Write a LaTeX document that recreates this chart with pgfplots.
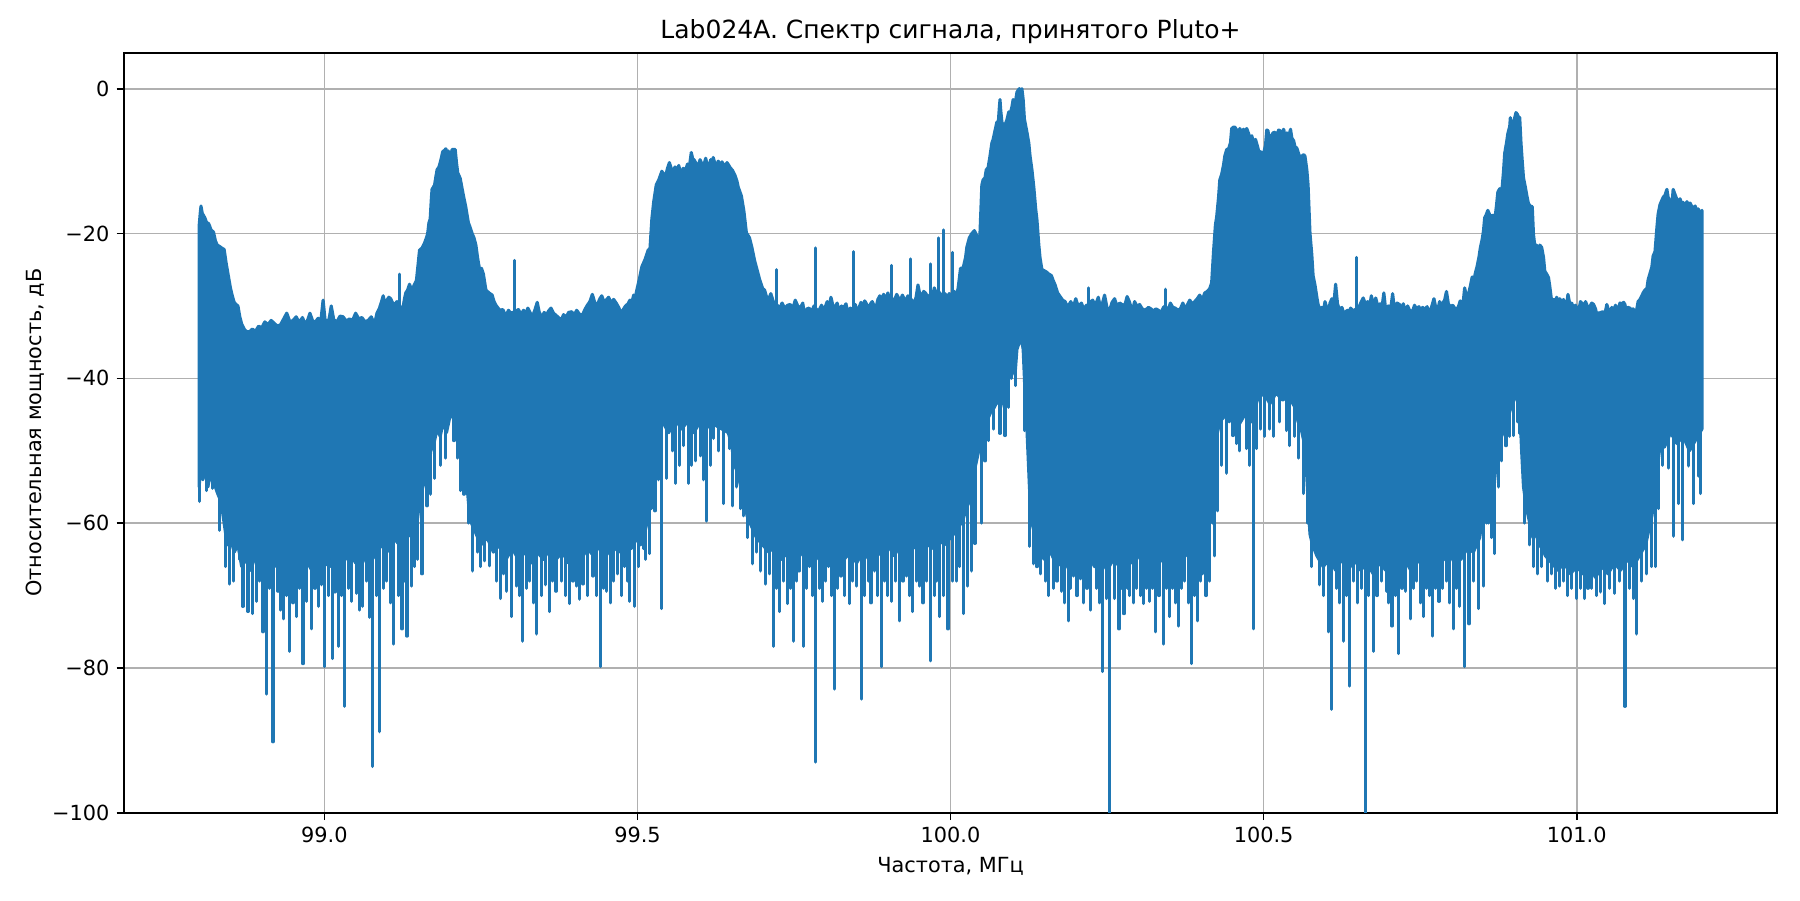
\documentclass[border=0pt]{standalone}
\usepackage{fontspec}
\setmainfont{DejaVu Sans}
\usepackage{pgfplots}
\pgfplotsset{compat=1.18}
\usepackage{pgfplotstable}
\definecolor{mplblue}{HTML}{1F77B4}
\definecolor{mplgrid}{HTML}{B0B0B0}

% upper envelope of the spectrum
\pgfplotstableread[row sep=\\]{
f y\\
98.800 -19.0\\ 98.802 -17.0\\ 98.803 -16.2\\ 98.805 -17.2\\ 98.807 -17.5\\ 98.809 -17.8\\ 98.812 -18.5\\ 98.815 -18.6\\
98.817 -19.0\\ 98.819 -19.5\\ 98.823 -19.8\\ 98.826 -21.0\\ 98.829 -21.6\\ 98.833 -21.8\\ 98.836 -22.0\\ 98.840 -22.2\\
98.843 -24.0\\ 98.845 -25.0\\ 98.848 -26.5\\ 98.850 -27.5\\ 98.853 -28.6\\ 98.856 -29.5\\ 98.859 -29.8\\ 98.862 -30.0\\
98.865 -31.5\\ 98.868 -32.5\\ 98.872 -33.2\\ 98.875 -33.5\\ 98.880 -33.6\\ 98.885 -33.2\\ 98.890 -33.5\\ 98.895 -32.8\\
98.900 -33.0\\ 98.905 -32.2\\ 98.910 -32.6\\ 98.915 -32.0\\ 98.920 -32.4\\ 98.925 -32.8\\ 98.930 -32.6\\ 98.935 -31.8\\
98.940 -31.0\\ 98.945 -32.2\\ 98.950 -32.0\\ 98.955 -31.5\\ 98.960 -32.3\\ 98.965 -31.6\\ 98.970 -32.6\\ 98.974 -31.8\\
98.977 -31.0\\ 98.981 -32.0\\ 98.985 -32.3\\ 98.990 -31.7\\ 98.994 -32.4\\ 98.998 -29.2\\ 99.001 -31.8\\ 99.005 -32.5\\
99.008 -31.6\\ 99.011 -30.0\\ 99.015 -31.9\\ 99.020 -32.2\\ 99.025 -31.4\\ 99.030 -31.5\\ 99.035 -32.1\\ 99.040 -31.8\\
99.045 -32.0\\ 99.050 -31.0\\ 99.055 -31.8\\ 99.060 -31.6\\ 99.065 -32.2\\ 99.070 -32.0\\ 99.075 -31.5\\ 99.080 -32.6\\
99.084 -31.0\\ 99.088 -30.3\\ 99.091 -29.5\\ 99.094 -28.6\\ 99.097 -29.8\\ 99.100 -29.2\\ 99.103 -28.8\\ 99.106 -29.0\\
99.109 -29.6\\ 99.112 -29.8\\ 99.116 -29.4\\ 99.120 -30.0\\ 99.125 -30.5\\ 99.128 -29.0\\ 99.130 -28.2\\ 99.133 -27.8\\
99.136 -27.0\\ 99.140 -28.0\\ 99.143 -27.2\\ 99.147 -26.5\\ 99.150 -24.0\\ 99.152 -22.3\\ 99.156 -22.0\\ 99.160 -21.3\\
99.163 -20.6\\ 99.165 -20.0\\ 99.167 -18.5\\ 99.169 -18.0\\ 99.171 -15.0\\ 99.172 -13.9\\ 99.176 -13.3\\ 99.178 -12.2\\
99.180 -11.2\\ 99.183 -10.8\\ 99.185 -10.2\\ 99.187 -9.5\\ 99.189 -8.7\\ 99.192 -8.5\\ 99.194 -8.3\\ 99.196 -8.8\\
99.198 -8.6\\ 99.200 -10.0\\ 99.202 -9.2\\ 99.204 -8.4\\ 99.206 -8.4\\ 99.209 -8.4\\ 99.211 -10.2\\ 99.213 -11.6\\
99.217 -12.4\\ 99.220 -13.8\\ 99.222 -14.7\\ 99.226 -16.4\\ 99.230 -18.5\\ 99.233 -19.2\\ 99.236 -20.0\\ 99.239 -20.6\\
99.242 -21.6\\ 99.245 -23.5\\ 99.248 -25.0\\ 99.251 -24.8\\ 99.254 -25.6\\ 99.258 -27.8\\ 99.263 -28.2\\ 99.268 -28.5\\
99.271 -29.4\\ 99.274 -29.9\\ 99.280 -30.6\\ 99.285 -30.5\\ 99.290 -31.4\\ 99.294 -30.6\\ 99.298 -31.0\\ 99.304 -30.8\\
99.310 -30.5\\ 99.314 -31.2\\ 99.318 -30.6\\ 99.322 -31.0\\ 99.325 -30.3\\ 99.329 -31.0\\ 99.333 -31.3\\ 99.336 -30.6\\
99.340 -29.5\\ 99.343 -30.8\\ 99.347 -31.6\\ 99.351 -30.9\\ 99.355 -31.2\\ 99.358 -30.7\\ 99.362 -30.3\\ 99.366 -31.0\\
99.370 -31.3\\ 99.374 -31.6\\ 99.378 -32.0\\ 99.382 -31.2\\ 99.386 -31.6\\ 99.390 -30.9\\ 99.395 -30.8\\ 99.399 -31.3\\
99.403 -30.6\\ 99.407 -31.1\\ 99.412 -31.3\\ 99.416 -30.5\\ 99.420 -29.9\\ 99.424 -29.4\\ 99.428 -28.4\\ 99.432 -29.6\\
99.436 -29.8\\ 99.440 -29.0\\ 99.443 -28.6\\ 99.447 -29.5\\ 99.450 -29.2\\ 99.454 -28.8\\ 99.458 -29.6\\ 99.462 -29.1\\
99.466 -29.6\\ 99.470 -30.2\\ 99.474 -31.0\\ 99.478 -30.4\\ 99.481 -30.0\\ 99.485 -29.7\\ 99.488 -29.2\\ 99.491 -29.5\\
99.494 -28.5\\ 99.497 -28.7\\ 99.499 -27.8\\ 99.503 -26.3\\ 99.507 -24.6\\ 99.512 -23.6\\ 99.517 -22.3\\ 99.520 -22.1\\
99.523 -18.0\\ 99.526 -15.6\\ 99.530 -13.3\\ 99.534 -12.6\\ 99.539 -11.4\\ 99.542 -11.8\\ 99.545 -12.0\\ 99.548 -11.0\\
99.551 -10.2\\ 99.554 -11.0\\ 99.557 -11.5\\ 99.560 -10.8\\ 99.563 -11.4\\ 99.566 -10.6\\ 99.569 -11.8\\ 99.573 -11.0\\
99.577 -11.2\\ 99.580 -10.4\\ 99.582 -11.4\\ 99.586 -8.8\\ 99.588 -9.6\\ 99.591 -9.9\\ 99.594 -10.4\\ 99.596 -11.0\\
99.600 -9.8\\ 99.603 -10.4\\ 99.605 -10.9\\ 99.609 -9.6\\ 99.613 -11.2\\ 99.617 -9.8\\ 99.619 -10.3\\ 99.621 -9.5\\
99.624 -10.4\\ 99.626 -10.8\\ 99.629 -10.0\\ 99.632 -10.6\\ 99.635 -10.1\\ 99.637 -10.4\\ 99.640 -10.8\\ 99.643 -10.2\\
99.646 -10.6\\ 99.648 -10.9\\ 99.652 -11.3\\ 99.656 -12.0\\ 99.659 -12.8\\ 99.661 -13.6\\ 99.666 -14.8\\ 99.670 -16.9\\
99.674 -19.9\\ 99.679 -20.6\\ 99.683 -22.0\\ 99.687 -23.7\\ 99.691 -25.0\\ 99.695 -26.3\\ 99.700 -27.6\\ 99.703 -27.8\\
99.706 -28.7\\ 99.710 -29.0\\ 99.713 -28.3\\ 99.717 -29.4\\ 99.722 -29.8\\ 99.727 -30.3\\ 99.731 -29.6\\ 99.735 -30.3\\
99.740 -29.9\\ 99.744 -29.8\\ 99.748 -30.4\\ 99.752 -29.2\\ 99.756 -30.0\\ 99.760 -30.3\\ 99.764 -29.6\\ 99.767 -31.2\\
99.771 -30.4\\ 99.774 -30.3\\ 99.778 -30.8\\ 99.782 -30.0\\ 99.786 -30.5\\ 99.790 -30.6\\ 99.794 -29.9\\ 99.797 -30.6\\
99.800 -30.1\\ 99.803 -29.4\\ 99.806 -30.2\\ 99.809 -28.8\\ 99.812 -29.9\\ 99.815 -30.3\\ 99.819 -29.6\\ 99.822 -30.8\\
99.826 -30.0\\ 99.829 -30.4\\ 99.833 -29.7\\ 99.836 -30.9\\ 99.840 -30.3\\ 99.845 -30.6\\ 99.848 -29.8\\ 99.851 -31.0\\
99.854 -30.2\\ 99.857 -29.5\\ 99.860 -30.1\\ 99.863 -29.3\\ 99.867 -29.9\\ 99.870 -30.2\\ 99.873 -29.6\\ 99.875 -29.4\\
99.878 -30.0\\ 99.881 -30.2\\ 99.884 -29.1\\ 99.887 -28.6\\ 99.890 -29.3\\ 99.893 -28.4\\ 99.897 -29.0\\ 99.900 -28.2\\
99.903 -29.4\\ 99.906 -28.9\\ 99.909 -29.5\\ 99.911 -29.1\\ 99.914 -28.4\\ 99.917 -28.9\\ 99.920 -29.3\\ 99.923 -28.5\\
99.926 -29.0\\ 99.929 -29.2\\ 99.932 -28.6\\ 99.936 -29.0\\ 99.939 -29.3\\ 99.942 -29.6\\ 99.945 -28.8\\ 99.948 -27.1\\
99.951 -28.4\\ 99.954 -28.6\\ 99.957 -28.0\\ 99.960 -28.2\\ 99.964 -28.8\\ 99.968 -28.4\\ 99.971 -28.9\\ 99.974 -27.5\\
99.978 -28.4\\ 99.981 -28.0\\ 99.985 -28.6\\ 99.989 -28.2\\ 99.992 -28.4\\ 99.994 -29.0\\ 99.998 -28.3\\ 100.003 -28.6\\
100.006 -28.0\\ 100.008 -29.0\\ 100.012 -27.6\\ 100.016 -24.8\\ 100.020 -24.8\\ 100.024 -23.3\\ 100.026 -21.9\\ 100.030 -20.6\\
100.034 -20.0\\ 100.038 -19.6\\ 100.042 -20.3\\ 100.045 -21.6\\ 100.047 -20.0\\ 100.050 -13.3\\ 100.052 -12.6\\ 100.055 -12.3\\
100.057 -11.2\\ 100.060 -10.9\\ 100.063 -9.3\\ 100.066 -7.5\\ 100.068 -7.0\\ 100.071 -5.8\\ 100.074 -4.6\\ 100.076 -5.0\\
100.078 -2.5\\ 100.079 -1.5\\ 100.080 -2.8\\ 100.082 -4.6\\ 100.084 -5.0\\ 100.087 -5.0\\ 100.090 -4.3\\ 100.093 -3.2\\
100.095 -3.6\\ 100.098 -2.5\\ 100.100 -1.5\\ 100.103 -2.2\\ 100.106 -0.5\\ 100.108 -0.2\\ 100.110 0.0\\ 100.112 -0.4\\
100.114 0.0\\ 100.116 -1.5\\ 100.118 -4.2\\ 100.122 -6.0\\ 100.125 -7.5\\ 100.127 -9.3\\ 100.130 -11.2\\ 100.133 -13.6\\
100.136 -16.6\\ 100.138 -18.1\\ 100.141 -21.6\\ 100.143 -23.4\\ 100.146 -25.0\\ 100.149 -25.1\\ 100.153 -25.3\\ 100.157 -25.6\\
100.161 -25.8\\ 100.164 -26.5\\ 100.167 -27.1\\ 100.171 -28.2\\ 100.175 -28.7\\ 100.179 -29.2\\ 100.183 -29.4\\ 100.187 -30.2\\
100.192 -29.4\\ 100.196 -30.2\\ 100.200 -29.0\\ 100.204 -30.1\\ 100.209 -29.6\\ 100.213 -30.5\\ 100.217 -29.9\\ 100.220 -30.2\\
100.224 -29.4\\ 100.227 -29.2\\ 100.231 -30.0\\ 100.236 -28.8\\ 100.239 -30.1\\ 100.243 -29.5\\ 100.246 -28.5\\ 100.250 -30.3\\
100.254 -30.6\\ 100.258 -29.5\\ 100.262 -29.0\\ 100.266 -30.1\\ 100.270 -29.6\\ 100.274 -29.8\\ 100.278 -30.0\\ 100.282 -28.7\\
100.286 -29.5\\ 100.290 -30.8\\ 100.294 -29.4\\ 100.298 -30.1\\ 100.302 -29.8\\ 100.306 -30.4\\ 100.311 -30.6\\ 100.316 -30.2\\
100.320 -30.4\\ 100.324 -30.7\\ 100.328 -30.4\\ 100.332 -30.6\\ 100.336 -30.9\\ 100.340 -30.2\\ 100.343 -30.0\\ 100.347 -30.8\\
100.351 -29.6\\ 100.355 -30.2\\ 100.359 -30.3\\ 100.363 -30.6\\ 100.367 -30.4\\ 100.371 -29.6\\ 100.375 -30.5\\ 100.379 -29.7\\
100.382 -29.2\\ 100.386 -29.7\\ 100.390 -29.4\\ 100.394 -29.0\\ 100.398 -28.5\\ 100.402 -29.2\\ 100.406 -28.2\\ 100.410 -28.0\\
100.414 -27.6\\ 100.417 -26.8\\ 100.420 -22.5\\ 100.423 -18.8\\ 100.425 -17.7\\ 100.428 -15.0\\ 100.430 -12.6\\ 100.433 -11.8\\
100.436 -10.5\\ 100.438 -9.3\\ 100.441 -8.4\\ 100.444 -8.3\\ 100.447 -7.5\\ 100.449 -5.5\\ 100.452 -5.3\\ 100.454 -5.3\\
100.457 -5.7\\ 100.460 -6.0\\ 100.462 -5.5\\ 100.465 -6.0\\ 100.468 -5.6\\ 100.470 -6.0\\ 100.473 -5.5\\ 100.476 -6.2\\
100.478 -6.8\\ 100.481 -6.5\\ 100.484 -7.4\\ 100.487 -7.0\\ 100.490 -7.9\\ 100.493 -8.9\\ 100.495 -8.7\\ 100.498 -9.0\\
100.500 -8.9\\ 100.503 -7.8\\ 100.505 -5.7\\ 100.507 -5.8\\ 100.510 -7.8\\ 100.513 -6.4\\ 100.515 -6.1\\ 100.518 -6.0\\
100.521 -6.6\\ 100.524 -5.7\\ 100.526 -5.8\\ 100.529 -6.2\\ 100.532 -5.6\\ 100.534 -6.5\\ 100.537 -6.1\\ 100.540 -6.6\\
100.543 -5.6\\ 100.545 -6.8\\ 100.548 -7.2\\ 100.550 -8.0\\ 100.553 -8.2\\ 100.556 -9.0\\ 100.558 -9.6\\ 100.561 -9.3\\
100.564 -9.1\\ 100.566 -9.3\\ 100.569 -11.2\\ 100.571 -13.3\\ 100.574 -19.9\\ 100.577 -23.0\\ 100.579 -25.8\\ 100.582 -27.1\\
100.585 -28.8\\ 100.587 -29.8\\ 100.590 -30.5\\ 100.593 -30.2\\ 100.596 -30.5\\ 100.598 -29.4\\ 100.601 -30.3\\ 100.604 -30.7\\
100.606 -29.6\\ 100.609 -29.0\\ 100.612 -29.8\\ 100.615 -27.0\\ 100.618 -29.7\\ 100.621 -30.5\\ 100.625 -30.2\\ 100.628 -31.0\\
100.631 -30.8\\ 100.634 -30.6\\ 100.636 -30.9\\ 100.639 -30.3\\ 100.643 -30.7\\ 100.648 -30.4\\ 100.652 -30.2\\ 100.656 -29.4\\
100.659 -28.9\\ 100.663 -29.8\\ 100.666 -29.4\\ 100.669 -30.2\\ 100.672 -28.6\\ 100.676 -30.2\\ 100.679 -28.9\\ 100.683 -30.3\\
100.686 -29.7\\ 100.689 -30.2\\ 100.692 -28.2\\ 100.695 -30.6\\ 100.699 -30.0\\ 100.703 -30.4\\ 100.706 -28.3\\ 100.709 -30.5\\
100.713 -29.6\\ 100.717 -29.8\\ 100.720 -30.6\\ 100.723 -29.7\\ 100.727 -30.9\\ 100.730 -30.0\\ 100.733 -30.6\\ 100.737 -30.9\\
100.741 -29.9\\ 100.744 -30.4\\ 100.748 -30.1\\ 100.751 -30.6\\ 100.754 -30.2\\ 100.757 -30.5\\ 100.761 -30.1\\ 100.764 -30.9\\
100.768 -30.2\\ 100.772 -29.0\\ 100.775 -30.3\\ 100.778 -30.6\\ 100.781 -29.4\\ 100.784 -29.9\\ 100.789 -29.2\\ 100.792 -28.0\\
100.795 -29.7\\ 100.798 -30.1\\ 100.802 -29.9\\ 100.805 -30.3\\ 100.808 -30.5\\ 100.811 -30.1\\ 100.814 -29.3\\ 100.818 -30.1\\
100.821 -27.5\\ 100.824 -28.8\\ 100.827 -28.4\\ 100.830 -27.3\\ 100.833 -26.0\\ 100.835 -26.8\\ 100.838 -25.5\\ 100.841 -24.5\\
100.844 -23.2\\ 100.846 -22.0\\ 100.849 -20.8\\ 100.851 -19.7\\ 100.853 -17.8\\ 100.855 -17.5\\ 100.858 -16.8\\ 100.862 -17.6\\
100.866 -17.5\\ 100.870 -17.5\\ 100.872 -16.0\\ 100.874 -14.3\\ 100.877 -13.8\\ 100.880 -14.6\\ 100.883 -11.5\\ 100.885 -8.9\\
100.888 -7.4\\ 100.890 -6.2\\ 100.893 -5.2\\ 100.894 -4.0\\ 100.896 -4.7\\ 100.899 -5.3\\ 100.901 -4.0\\ 100.903 -3.3\\
100.905 -3.5\\ 100.907 -3.9\\ 100.909 -4.0\\ 100.911 -7.5\\ 100.913 -10.0\\ 100.915 -12.3\\ 100.918 -13.6\\ 100.920 -14.6\\
100.923 -15.9\\ 100.926 -16.2\\ 100.929 -16.3\\ 100.931 -20.2\\ 100.933 -21.6\\ 100.936 -21.6\\ 100.939 -22.7\\ 100.941 -21.6\\
100.944 -21.9\\ 100.947 -23.3\\ 100.949 -25.2\\ 100.952 -25.6\\ 100.955 -26.1\\ 100.957 -27.3\\ 100.960 -29.4\\ 100.963 -29.1\\
100.965 -29.6\\ 100.968 -28.8\\ 100.971 -29.6\\ 100.973 -29.0\\ 100.976 -29.6\\ 100.979 -29.1\\ 100.981 -30.3\\ 100.984 -29.8\\
100.986 -28.4\\ 100.990 -30.2\\ 100.992 -29.6\\ 100.995 -30.3\\ 100.998 -29.9\\ 101.001 -30.5\\ 101.004 -30.3\\ 101.006 -29.4\\
101.009 -29.7\\ 101.011 -30.3\\ 101.014 -29.4\\ 101.016 -29.8\\ 101.019 -30.8\\ 101.022 -29.9\\ 101.024 -29.6\\ 101.027 -29.8\\
101.030 -30.4\\ 101.032 -31.2\\ 101.035 -30.9\\ 101.038 -31.1\\ 101.040 -30.8\\ 101.043 -30.9\\ 101.046 -30.7\\ 101.048 -29.8\\
101.051 -30.6\\ 101.054 -30.9\\ 101.056 -30.2\\ 101.059 -30.6\\ 101.062 -29.9\\ 101.064 -30.5\\ 101.067 -30.3\\ 101.069 -29.6\\
101.072 -29.7\\ 101.075 -29.5\\ 101.077 -29.8\\ 101.080 -31.2\\ 101.082 -30.2\\ 101.085 -30.3\\ 101.088 -30.6\\ 101.090 -30.4\\
101.093 -30.9\\ 101.096 -30.4\\ 101.098 -29.4\\ 101.101 -29.1\\ 101.104 -28.6\\ 101.106 -28.2\\ 101.109 -27.8\\ 101.112 -27.6\\
101.114 -26.4\\ 101.117 -25.5\\ 101.120 -24.6\\ 101.122 -23.1\\ 101.125 -22.5\\ 101.128 -19.2\\ 101.130 -17.3\\ 101.133 -16.0\\
101.136 -15.4\\ 101.138 -15.0\\ 101.141 -14.7\\ 101.144 -13.9\\ 101.146 -15.0\\ 101.149 -15.5\\ 101.152 -16.0\\ 101.154 -13.9\\
101.157 -14.6\\ 101.160 -15.3\\ 101.162 -16.0\\ 101.165 -15.2\\ 101.168 -16.0\\ 101.170 -15.7\\ 101.173 -16.3\\ 101.176 -15.6\\
101.178 -16.0\\ 101.181 -15.8\\ 101.184 -16.3\\ 101.186 -16.6\\ 101.189 -16.2\\ 101.192 -16.8\\ 101.194 -16.6\\ 101.197 -17.3\\
101.200 -16.8\\
}\tblU

% lower edge of the dense part (listed from right to left, so that it closes the outline)
\pgfplotstableread[row sep=\\]{
f y\\
101.200 -47\\ 101.190 -48.5\\ 101.180 -50\\ 101.170 -48\\ 101.160 -49\\ 101.150 -47.5\\ 101.140 -49.5\\ 101.136 -48\\
101.132 -50\\ 101.128 -53\\ 101.125 -56\\ 101.120 -59\\ 101.115 -61\\ 101.110 -63\\ 101.100 -64.5\\ 101.090 -66\\
101.080 -65\\ 101.070 -66.5\\ 101.060 -65.5\\ 101.050 -67\\ 101.040 -66\\ 101.030 -67.5\\ 101.020 -66\\ 101.010 -67\\
101.000 -66\\ 100.990 -67\\ 100.980 -65.5\\ 100.970 -66.5\\ 100.960 -65.5\\ 100.950 -64.5\\ 100.945 -63.5\\ 100.940 -63\\
100.935 -61.5\\ 100.930 -62\\ 100.925 -60\\ 100.920 -58\\ 100.915 -55\\ 100.912 -50\\ 100.909 -44\\ 100.905 -42\\
100.900 -43\\ 100.895 -44\\ 100.890 -45.5\\ 100.885 -47\\ 100.880 -48\\ 100.875 -50\\ 100.870 -53\\ 100.866 -57\\
100.860 -55\\ 100.855 -57\\ 100.850 -59\\ 100.845 -62\\ 100.835 -64\\ 100.825 -63.5\\ 100.815 -65\\ 100.805 -64\\
100.795 -65.5\\ 100.785 -64.5\\ 100.775 -66\\ 100.765 -64.5\\ 100.755 -66\\ 100.745 -65\\ 100.735 -66.5\\ 100.725 -65\\
100.715 -66.5\\ 100.705 -65\\ 100.695 -66.5\\ 100.685 -65.5\\ 100.675 -67\\ 100.665 -65.5\\ 100.655 -66.5\\ 100.645 -65\\
100.635 -66.5\\ 100.625 -65\\ 100.615 -66.5\\ 100.605 -65\\ 100.595 -66\\ 100.585 -64.5\\ 100.578 -63\\ 100.574 -61.5\\
100.571 -57\\ 100.568 -52\\ 100.565 -49\\ 100.560 -47\\ 100.555 -46\\ 100.550 -44\\ 100.540 -42.5\\ 100.530 -43\\
100.520 -42\\ 100.510 -43.5\\ 100.500 -42\\ 100.490 -43\\ 100.480 -46\\ 100.470 -45\\ 100.460 -46.5\\ 100.450 -45\\
100.445 -46\\ 100.440 -45\\ 100.430 -46\\ 100.425 -48\\ 100.420 -52\\ 100.416 -55\\ 100.413 -58\\ 100.410 -60\\
100.405 -62\\ 100.400 -63\\ 100.390 -64.5\\ 100.380 -64\\ 100.370 -65\\ 100.360 -64\\ 100.350 -65.5\\ 100.340 -64.5\\
100.330 -66\\ 100.320 -65\\ 100.310 -66\\ 100.300 -64.5\\ 100.290 -65.5\\ 100.280 -64.5\\ 100.270 -66\\ 100.260 -65\\
100.250 -66.5\\ 100.240 -65\\ 100.230 -66\\ 100.220 -64.5\\ 100.210 -66\\ 100.200 -65\\ 100.190 -66.5\\ 100.180 -65\\
100.170 -66\\ 100.160 -64\\ 100.150 -65\\ 100.145 -64.5\\ 100.138 -63\\ 100.133 -61\\ 100.130 -60\\ 100.128 -58\\
100.126 -55\\ 100.124 -51\\ 100.122 -47\\ 100.120 -45\\ 100.118 -40\\ 100.116 -36\\ 100.113 -34.5\\ 100.110 -35\\
100.106 -36\\ 100.103 -39.5\\ 100.100 -38.5\\ 100.095 -39.5\\ 100.090 -41\\ 100.085 -42\\ 100.080 -44\\ 100.075 -43\\
100.070 -44\\ 100.065 -44.5\\ 100.060 -45.5\\ 100.055 -46\\ 100.050 -47\\ 100.045 -50\\ 100.040 -52\\ 100.035 -54\\
100.030 -57\\ 100.025 -58\\ 100.020 -59.5\\ 100.010 -61\\ 100.000 -62\\ 99.990 -63\\ 99.980 -62\\ 99.970 -63.5\\
99.960 -62.5\\ 99.950 -64\\ 99.940 -63\\ 99.930 -64\\ 99.920 -63\\ 99.910 -64.5\\ 99.900 -63\\ 99.890 -64.5\\
99.880 -63.5\\ 99.870 -65\\ 99.860 -64\\ 99.850 -65.5\\ 99.840 -64\\ 99.830 -65\\ 99.820 -63.5\\ 99.810 -65\\
99.800 -64\\ 99.790 -65\\ 99.780 -63.5\\ 99.770 -65\\ 99.760 -64\\ 99.750 -65.5\\ 99.740 -64\\ 99.730 -65\\
99.720 -63\\ 99.710 -64\\ 99.700 -63\\ 99.690 -62\\ 99.680 -60\\ 99.675 -59\\ 99.670 -56\\ 99.665 -55\\
99.660 -53\\ 99.655 -52\\ 99.650 -49\\ 99.645 -47.5\\ 99.635 -47\\ 99.625 -46.5\\ 99.620 -45.5\\ 99.610 -47\\
99.600 -46\\ 99.590 -47.5\\ 99.580 -46\\ 99.570 -47\\ 99.560 -45.5\\ 99.550 -47.5\\ 99.540 -46\\ 99.530 -48\\
99.525 -51\\ 99.522 -54\\ 99.519 -57\\ 99.515 -60\\ 99.510 -62\\ 99.505 -63\\ 99.500 -62\\ 99.490 -63.5\\
99.480 -62.5\\ 99.470 -64\\ 99.460 -63\\ 99.450 -64.5\\ 99.440 -63\\ 99.430 -64.5\\ 99.420 -63.5\\ 99.410 -65\\
99.400 -64\\ 99.390 -65.5\\ 99.380 -64\\ 99.370 -65\\ 99.360 -63.5\\ 99.350 -65\\ 99.340 -64\\ 99.330 -65.5\\
99.320 -64\\ 99.310 -65\\ 99.300 -63.5\\ 99.290 -65\\ 99.280 -63\\ 99.270 -64\\ 99.260 -62\\ 99.250 -63\\
99.245 -62\\ 99.240 -61\\ 99.235 -60\\ 99.231 -58\\ 99.228 -55\\ 99.225 -51\\ 99.220 -48\\ 99.215 -46\\
99.210 -46.5\\ 99.205 -45\\ 99.200 -45.5\\ 99.195 -47.5\\ 99.190 -46\\ 99.185 -48\\ 99.180 -47\\ 99.175 -49\\
99.170 -50\\ 99.166 -53\\ 99.160 -54\\ 99.152 -57\\ 99.148 -60\\ 99.140 -62\\ 99.130 -61\\ 99.120 -63\\
99.110 -62\\ 99.100 -64\\ 99.090 -63\\ 99.080 -64.5\\ 99.070 -66\\ 99.060 -64\\ 99.050 -65.5\\ 99.040 -64\\
99.030 -65.5\\ 99.020 -64.5\\ 99.010 -66\\ 99.000 -65.5\\ 98.990 -64\\ 98.980 -66.5\\ 98.970 -65\\ 98.960 -66\\
98.950 -64.5\\ 98.940 -66.5\\ 98.930 -65\\ 98.920 -66\\ 98.910 -64\\ 98.900 -65.5\\ 98.890 -64.5\\ 98.882 -66.5\\
98.875 -65\\ 98.868 -66\\ 98.862 -63\\ 98.856 -64\\ 98.850 -62\\ 98.845 -63\\ 98.840 -60\\ 98.835 -57\\
98.830 -56\\ 98.826 -55\\ 98.822 -54.5\\ 98.818 -53\\ 98.814 -55\\ 98.810 -52.5\\ 98.806 -54\\ 98.802 -53\\
98.800 -55\\
}\tblL

% isolated spikes: each starts inside the dense band and ends at the spike value
\pgfplotstableread[row sep=\\]{
f y\\
98.801 -50\\ 98.801 -57\\ 98.801 nan\\ 98.812 -50\\ 98.812 -55.5\\ 98.812 nan\\ 98.821 -50\\ 98.821 -55.2\\ 98.821 nan\\
98.832 -55\\ 98.832 -61\\ 98.832 nan\\ 98.842 -57\\ 98.842 -66\\ 98.842 nan\\ 98.849 -59\\ 98.849 -68.4\\ 98.849 nan\\
98.855 -60\\ 98.855 -68\\ 98.855 nan\\ 98.864 -60\\ 98.864 -65\\ 98.864 nan\\ 98.870 -61\\ 98.870 -71.5\\ 98.870 nan\\
98.878 -61\\ 98.878 -72.2\\ 98.878 nan\\ 98.885 -61\\ 98.885 -72.5\\ 98.885 nan\\ 98.891 -61\\ 98.891 -70.8\\ 98.891 nan\\
98.896 -61\\ 98.896 -68\\ 98.896 nan\\ 98.902 -61\\ 98.902 -75\\ 98.902 nan\\ 98.907 -61\\ 98.907 -83.6\\ 98.907 nan\\
98.912 -61\\ 98.912 -69\\ 98.912 nan\\ 98.918 -61\\ 98.918 -90.2\\ 98.918 nan\\ 98.926 -61\\ 98.926 -69.4\\ 98.926 nan\\
98.930 -61\\ 98.930 -72\\ 98.930 nan\\ 98.935 -61\\ 98.935 -73.2\\ 98.935 nan\\ 98.940 -61\\ 98.940 -70\\ 98.940 nan\\
98.945 -61\\ 98.945 -77.7\\ 98.945 nan\\ 98.950 -61\\ 98.950 -71\\ 98.950 nan\\ 98.956 -61\\ 98.956 -72.9\\ 98.956 nan\\
98.961 -61\\ 98.961 -69\\ 98.961 nan\\ 98.966 -61\\ 98.966 -79.4\\ 98.966 nan\\ 98.972 -61\\ 98.972 -70.8\\ 98.972 nan\\
98.979 -61\\ 98.979 -74.6\\ 98.979 nan\\ 98.985 -61\\ 98.985 -69\\ 98.985 nan\\ 98.990 -61\\ 98.990 -71.5\\ 98.990 nan\\
98.995 -61\\ 98.995 -68.5\\ 98.995 nan\\ 99.000 -61\\ 99.000 -79.8\\ 99.000 nan\\ 99.006 -61\\ 99.006 -70\\ 99.006 nan\\
99.013 -61\\ 99.013 -78.7\\ 99.013 nan\\ 99.017 -61\\ 99.017 -69.5\\ 99.017 nan\\ 99.022 -61\\ 99.022 -77\\ 99.022 nan\\
99.027 -61\\ 99.027 -70\\ 99.027 nan\\ 99.032 -61\\ 99.032 -85.3\\ 99.032 nan\\ 99.038 -61\\ 99.038 -69\\ 99.038 nan\\
99.043 -61\\ 99.043 -70.8\\ 99.043 nan\\ 99.051 -61\\ 99.051 -69.7\\ 99.051 nan\\ 99.056 -61\\ 99.056 -72\\ 99.056 nan\\
99.061 -61\\ 99.061 -71.5\\ 99.061 nan\\ 99.067 -61\\ 99.067 -68\\ 99.067 nan\\ 99.072 -61\\ 99.072 -73\\ 99.072 nan\\
99.077 -61\\ 99.077 -93.6\\ 99.077 nan\\ 99.083 -60\\ 99.083 -70\\ 99.083 nan\\ 99.088 -60\\ 99.088 -88.8\\ 99.088 nan\\
99.094 -60\\ 99.094 -69\\ 99.094 nan\\ 99.099 -60\\ 99.099 -68\\ 99.099 nan\\ 99.105 -59\\ 99.105 -71\\ 99.105 nan\\
99.111 -59\\ 99.111 -76.7\\ 99.111 nan\\ 99.118 -59\\ 99.118 -70\\ 99.118 nan\\ 99.124 -58\\ 99.124 -74.6\\ 99.124 nan\\
99.128 -58\\ 99.128 -68\\ 99.128 nan\\ 99.132 -57\\ 99.132 -75.6\\ 99.132 nan\\ 99.139 -57\\ 99.139 -68.7\\ 99.139 nan\\
99.144 -57\\ 99.144 -66\\ 99.144 nan\\ 99.149 -56\\ 99.149 -65\\ 99.149 nan\\ 99.156 -53\\ 99.156 -67\\ 99.156 nan\\
99.164 -50\\ 99.164 -57.6\\ 99.164 nan\\ 99.170 -48\\ 99.170 -56\\ 99.170 nan\\ 99.176 -47\\ 99.176 -53.8\\ 99.176 nan\\
99.185 -46\\ 99.185 -52\\ 99.185 nan\\ 99.193 -45\\ 99.193 -51\\ 99.193 nan\\ 99.207 -44\\ 99.207 -48.6\\ 99.207 nan\\
99.212 -44\\ 99.212 -51\\ 99.212 nan\\ 99.217 -44\\ 99.217 -55.5\\ 99.217 nan\\ 99.223 -47\\ 99.223 -56\\ 99.223 nan\\
99.230 -52\\ 99.230 -60\\ 99.230 nan\\ 99.237 -56\\ 99.237 -66.6\\ 99.237 nan\\ 99.244 -58\\ 99.244 -64\\ 99.244 nan\\
99.250 -59\\ 99.250 -66\\ 99.250 nan\\ 99.256 -59\\ 99.256 -65.2\\ 99.256 nan\\ 99.264 -59\\ 99.264 -65.9\\ 99.264 nan\\
99.275 -59\\ 99.275 -68\\ 99.275 nan\\ 99.281 -59\\ 99.281 -70.4\\ 99.281 nan\\ 99.286 -59\\ 99.286 -67\\ 99.286 nan\\
99.291 -59\\ 99.291 -69.4\\ 99.291 nan\\ 99.299 -59\\ 99.299 -72.9\\ 99.299 nan\\ 99.307 -59\\ 99.307 -68.7\\ 99.307 nan\\
99.312 -59\\ 99.312 -70\\ 99.312 nan\\ 99.317 -59\\ 99.317 -76.3\\ 99.317 nan\\ 99.323 -59\\ 99.323 -69\\ 99.323 nan\\
99.328 -59\\ 99.328 -68\\ 99.328 nan\\ 99.334 -59\\ 99.334 -71\\ 99.334 nan\\ 99.339 -59\\ 99.339 -75.3\\ 99.339 nan\\
99.347 -59\\ 99.347 -70\\ 99.347 nan\\ 99.353 -59\\ 99.353 -68.5\\ 99.353 nan\\ 99.360 -59\\ 99.360 -72.2\\ 99.360 nan\\
99.365 -59\\ 99.365 -68\\ 99.365 nan\\ 99.370 -59\\ 99.370 -69.4\\ 99.370 nan\\ 99.379 -59\\ 99.379 -68\\ 99.379 nan\\
99.385 -59\\ 99.385 -70\\ 99.385 nan\\ 99.391 -59\\ 99.391 -71.1\\ 99.391 nan\\ 99.397 -59\\ 99.397 -68\\ 99.397 nan\\
99.403 -59\\ 99.403 -68.7\\ 99.403 nan\\ 99.408 -59\\ 99.408 -70.5\\ 99.408 nan\\ 99.413 -59\\ 99.413 -68.4\\ 99.413 nan\\
99.420 -59\\ 99.420 -70\\ 99.420 nan\\ 99.429 -59\\ 99.429 -67.3\\ 99.429 nan\\ 99.435 -59\\ 99.435 -70\\ 99.435 nan\\
99.441 -59\\ 99.441 -79.8\\ 99.441 nan\\ 99.446 -59\\ 99.446 -69\\ 99.446 nan\\ 99.451 -59\\ 99.451 -69.4\\ 99.451 nan\\
99.457 -59\\ 99.457 -71\\ 99.457 nan\\ 99.462 -59\\ 99.462 -68\\ 99.462 nan\\ 99.468 -59\\ 99.468 -67\\ 99.468 nan\\
99.474 -59\\ 99.474 -70\\ 99.474 nan\\ 99.480 -59\\ 99.480 -66\\ 99.480 nan\\ 99.484 -59\\ 99.484 -68\\ 99.484 nan\\
99.488 -59\\ 99.488 -70.8\\ 99.488 nan\\ 99.495 -59\\ 99.495 -71.5\\ 99.495 nan\\ 99.502 -59\\ 99.502 -66\\ 99.502 nan\\
99.509 -59\\ 99.509 -63.5\\ 99.509 nan\\ 99.513 -58\\ 99.513 -65\\ 99.513 nan\\ 99.519 -55\\ 99.519 -64.2\\ 99.519 nan\\
99.523 -52\\ 99.523 -58\\ 99.523 nan\\ 99.528 -48\\ 99.528 -58.3\\ 99.528 nan\\ 99.533 -47\\ 99.533 -54\\ 99.533 nan\\
99.538 -45\\ 99.538 -71.8\\ 99.538 nan\\ 99.546 -44\\ 99.546 -53.8\\ 99.546 nan\\ 99.556 -44\\ 99.556 -50\\ 99.556 nan\\
99.561 -44\\ 99.561 -54.5\\ 99.561 nan\\ 99.567 -44\\ 99.567 -52\\ 99.567 nan\\ 99.573 -44\\ 99.573 -49.3\\ 99.573 nan\\
99.581 -44\\ 99.581 -54.5\\ 99.581 nan\\ 99.587 -44\\ 99.587 -52\\ 99.587 nan\\ 99.593 -44\\ 99.593 -51.4\\ 99.593 nan\\
99.600 -44\\ 99.600 -50.7\\ 99.600 nan\\ 99.605 -44\\ 99.605 -54\\ 99.605 nan\\ 99.610 -44\\ 99.610 -59.7\\ 99.610 nan\\
99.616 -44\\ 99.616 -52\\ 99.616 nan\\ 99.622 -44\\ 99.622 -48.3\\ 99.622 nan\\ 99.629 -44\\ 99.629 -50\\ 99.629 nan\\
99.638 -45\\ 99.638 -57.3\\ 99.638 nan\\ 99.647 -45\\ 99.647 -49.7\\ 99.647 nan\\ 99.652 -46\\ 99.652 -57.6\\ 99.652 nan\\
99.658 -49\\ 99.658 -55\\ 99.658 nan\\ 99.664 -52\\ 99.664 -58\\ 99.664 nan\\ 99.669 -53\\ 99.669 -59\\ 99.669 nan\\
99.676 -56\\ 99.676 -62\\ 99.676 nan\\ 99.684 -58\\ 99.684 -65.6\\ 99.684 nan\\ 99.690 -59\\ 99.690 -64\\ 99.690 nan\\
99.697 -60\\ 99.697 -66.6\\ 99.697 nan\\ 99.705 -60\\ 99.705 -68.4\\ 99.705 nan\\ 99.711 -60\\ 99.711 -67\\ 99.711 nan\\
99.717 -60\\ 99.717 -77\\ 99.717 nan\\ 99.722 -60\\ 99.722 -69\\ 99.722 nan\\ 99.727 -60\\ 99.727 -72.2\\ 99.727 nan\\
99.733 -60\\ 99.733 -68\\ 99.733 nan\\ 99.739 -60\\ 99.739 -71.1\\ 99.739 nan\\ 99.744 -60\\ 99.744 -69\\ 99.744 nan\\
99.749 -60\\ 99.749 -76.3\\ 99.749 nan\\ 99.754 -60\\ 99.754 -68\\ 99.754 nan\\ 99.758 -60\\ 99.758 -66.6\\ 99.758 nan\\
99.765 -60\\ 99.765 -77\\ 99.765 nan\\ 99.770 -60\\ 99.770 -69\\ 99.770 nan\\ 99.775 -60\\ 99.775 -66\\ 99.775 nan\\
99.780 -60\\ 99.780 -70\\ 99.780 nan\\ 99.785 -60\\ 99.785 -93\\ 99.785 nan\\ 99.791 -60\\ 99.791 -69\\ 99.791 nan\\
99.796 -60\\ 99.796 -70.8\\ 99.796 nan\\ 99.800 -60\\ 99.800 -68\\ 99.800 nan\\ 99.805 -60\\ 99.805 -66\\ 99.805 nan\\
99.810 -60\\ 99.810 -70\\ 99.810 nan\\ 99.815 -60\\ 99.815 -82.9\\ 99.815 nan\\ 99.820 -60\\ 99.820 -69\\ 99.820 nan\\
99.825 -60\\ 99.825 -67.3\\ 99.825 nan\\ 99.831 -60\\ 99.831 -70\\ 99.831 nan\\ 99.838 -60\\ 99.838 -71.1\\ 99.838 nan\\
99.844 -60\\ 99.844 -68\\ 99.844 nan\\ 99.850 -60\\ 99.850 -68.7\\ 99.850 nan\\ 99.858 -60\\ 99.858 -84.3\\ 99.858 nan\\
99.863 -60\\ 99.863 -70\\ 99.863 nan\\ 99.869 -60\\ 99.869 -68\\ 99.869 nan\\ 99.873 -60\\ 99.873 -71\\ 99.873 nan\\
99.878 -60\\ 99.878 -66.6\\ 99.878 nan\\ 99.884 -60\\ 99.884 -70\\ 99.884 nan\\ 99.890 -60\\ 99.890 -79.8\\ 99.890 nan\\
99.895 -60\\ 99.895 -68\\ 99.895 nan\\ 99.900 -60\\ 99.900 -70\\ 99.900 nan\\ 99.906 -60\\ 99.906 -70.8\\ 99.906 nan\\
99.912 -60\\ 99.912 -68\\ 99.912 nan\\ 99.919 -60\\ 99.919 -73.5\\ 99.919 nan\\ 99.924 -60\\ 99.924 -68\\ 99.924 nan\\
99.929 -60\\ 99.929 -67.3\\ 99.929 nan\\ 99.934 -60\\ 99.934 -70\\ 99.934 nan\\ 99.939 -60\\ 99.939 -72.2\\ 99.939 nan\\
99.945 -60\\ 99.945 -68\\ 99.945 nan\\ 99.951 -60\\ 99.951 -68.7\\ 99.951 nan\\ 99.956 -60\\ 99.956 -71\\ 99.956 nan\\
99.962 -60\\ 99.962 -68\\ 99.962 nan\\ 99.968 -60\\ 99.968 -79\\ 99.968 nan\\ 99.974 -60\\ 99.974 -70\\ 99.974 nan\\
99.978 -60\\ 99.978 -68\\ 99.978 nan\\ 99.983 -60\\ 99.983 -72.9\\ 99.983 nan\\ 99.989 -59\\ 99.989 -70\\ 99.989 nan\\
99.996 -59\\ 99.996 -74.6\\ 99.996 nan\\ 100.003 -59\\ 100.003 -68\\ 100.003 nan\\ 100.010 -58\\ 100.010 -68\\ 100.010 nan\\
100.015 -58\\ 100.015 -66\\ 100.015 nan\\ 100.020 -57\\ 100.020 -72.5\\ 100.020 nan\\ 100.027 -55\\ 100.027 -68.7\\ 100.027 nan\\
100.033 -52\\ 100.033 -66.6\\ 100.033 nan\\ 100.039 -50\\ 100.039 -62.8\\ 100.039 nan\\ 100.049 -46\\ 100.049 -60\\ 100.049 nan\\
100.055 -44\\ 100.055 -51.4\\ 100.055 nan\\ 100.060 -43\\ 100.060 -48.6\\ 100.060 nan\\ 100.068 -42\\ 100.068 -47\\ 100.068 nan\\
100.079 -41\\ 100.079 -47.6\\ 100.079 nan\\ 100.087 -40\\ 100.087 -47.9\\ 100.087 nan\\ 100.093 -38\\ 100.093 -44\\ 100.093 nan\\
100.098 -36\\ 100.098 -40\\ 100.098 nan\\ 100.104 -35\\ 100.104 -41\\ 100.104 nan\\ 100.118 -37\\ 100.118 -47.2\\ 100.118 nan\\
100.126 -52\\ 100.126 -63.2\\ 100.126 nan\\ 100.132 -58\\ 100.132 -65.6\\ 100.132 nan\\ 100.138 -60\\ 100.138 -66\\ 100.138 nan\\
100.144 -61\\ 100.144 -67\\ 100.144 nan\\ 100.151 -61\\ 100.151 -68\\ 100.151 nan\\ 100.157 -61\\ 100.157 -70\\ 100.157 nan\\
100.164 -61\\ 100.164 -69\\ 100.164 nan\\ 100.170 -61\\ 100.170 -68\\ 100.170 nan\\ 100.177 -61\\ 100.177 -69.4\\ 100.177 nan\\
100.182 -61\\ 100.182 -71\\ 100.182 nan\\ 100.188 -61\\ 100.188 -73.5\\ 100.188 nan\\ 100.192 -61\\ 100.192 -69\\ 100.192 nan\\
100.197 -61\\ 100.197 -67.3\\ 100.197 nan\\ 100.202 -61\\ 100.202 -70\\ 100.202 nan\\ 100.207 -61\\ 100.207 -67.7\\ 100.207 nan\\
100.213 -61\\ 100.213 -71\\ 100.213 nan\\ 100.218 -61\\ 100.218 -69\\ 100.218 nan\\ 100.224 -61\\ 100.224 -72\\ 100.224 nan\\
100.233 -61\\ 100.233 -69\\ 100.233 nan\\ 100.238 -61\\ 100.238 -71\\ 100.238 nan\\ 100.243 -61\\ 100.243 -80.5\\ 100.243 nan\\
100.249 -61\\ 100.249 -70.4\\ 100.249 nan\\ 100.254 -61\\ 100.254 -104\\ 100.254 nan\\ 100.262 -61\\ 100.262 -70.4\\ 100.262 nan\\
100.269 -61\\ 100.269 -74.6\\ 100.269 nan\\ 100.273 -61\\ 100.273 -69\\ 100.273 nan\\ 100.277 -61\\ 100.277 -72.5\\ 100.277 nan\\
100.282 -61\\ 100.282 -69\\ 100.282 nan\\ 100.286 -61\\ 100.286 -70\\ 100.286 nan\\ 100.292 -61\\ 100.292 -71\\ 100.292 nan\\
100.297 -61\\ 100.297 -69\\ 100.297 nan\\ 100.303 -61\\ 100.303 -70\\ 100.303 nan\\ 100.308 -61\\ 100.308 -71.1\\ 100.308 nan\\
100.313 -61\\ 100.313 -69\\ 100.313 nan\\ 100.318 -61\\ 100.318 -70.8\\ 100.318 nan\\ 100.323 -61\\ 100.323 -69\\ 100.323 nan\\
100.327 -61\\ 100.327 -75\\ 100.327 nan\\ 100.333 -61\\ 100.333 -70\\ 100.333 nan\\ 100.340 -61\\ 100.340 -76.7\\ 100.340 nan\\
100.345 -61\\ 100.345 -69\\ 100.345 nan\\ 100.349 -61\\ 100.349 -72.9\\ 100.349 nan\\ 100.355 -61\\ 100.355 -69\\ 100.355 nan\\
100.359 -61\\ 100.359 -71\\ 100.359 nan\\ 100.364 -61\\ 100.364 -74.2\\ 100.364 nan\\ 100.369 -61\\ 100.369 -69\\ 100.369 nan\\
100.374 -61\\ 100.374 -68\\ 100.374 nan\\ 100.380 -61\\ 100.380 -71\\ 100.380 nan\\ 100.385 -61\\ 100.385 -79.4\\ 100.385 nan\\
100.390 -60\\ 100.390 -70\\ 100.390 nan\\ 100.394 -60\\ 100.394 -73.5\\ 100.394 nan\\ 100.399 -59\\ 100.399 -68\\ 100.399 nan\\
100.403 -58\\ 100.403 -67\\ 100.403 nan\\ 100.408 -57\\ 100.408 -70\\ 100.408 nan\\ 100.413 -55\\ 100.413 -68\\ 100.413 nan\\
100.418 -52\\ 100.418 -60\\ 100.418 nan\\ 100.422 -49\\ 100.422 -64.5\\ 100.422 nan\\ 100.427 -46\\ 100.427 -58.3\\ 100.427 nan\\
100.433 -44\\ 100.433 -52\\ 100.433 nan\\ 100.440 -43\\ 100.440 -53.1\\ 100.440 nan\\ 100.451 -43\\ 100.451 -47.9\\ 100.451 nan\\
100.456 -43\\ 100.456 -49\\ 100.456 nan\\ 100.462 -43\\ 100.462 -50\\ 100.462 nan\\ 100.472 -43\\ 100.472 -49.7\\ 100.472 nan\\
100.478 -43\\ 100.478 -52\\ 100.478 nan\\ 100.484 -43\\ 100.484 -74.6\\ 100.484 nan\\ 100.488 -42\\ 100.488 -49.7\\ 100.488 nan\\
100.495 -41\\ 100.495 -47\\ 100.495 nan\\ 100.502 -40\\ 100.502 -48\\ 100.502 nan\\ 100.509 -40\\ 100.509 -47\\ 100.509 nan\\
100.516 -40\\ 100.516 -48\\ 100.516 nan\\ 100.526 -40\\ 100.526 -46\\ 100.526 nan\\ 100.536 -40\\ 100.536 -47.2\\ 100.536 nan\\
100.542 -40\\ 100.542 -49.3\\ 100.542 nan\\ 100.549 -41\\ 100.549 -48\\ 100.549 nan\\ 100.555 -43\\ 100.555 -51\\ 100.555 nan\\
100.563 -46\\ 100.563 -55.9\\ 100.563 nan\\ 100.570 -50\\ 100.570 -60\\ 100.570 nan\\ 100.577 -60\\ 100.577 -66\\ 100.577 nan\\
100.589 -62\\ 100.589 -68.5\\ 100.589 nan\\ 100.595 -62\\ 100.595 -70\\ 100.595 nan\\ 100.603 -62\\ 100.603 -75\\ 100.603 nan\\
100.608 -62\\ 100.608 -85.7\\ 100.608 nan\\ 100.616 -62\\ 100.616 -69\\ 100.616 nan\\ 100.621 -62\\ 100.621 -71\\ 100.621 nan\\
100.627 -62\\ 100.627 -76.3\\ 100.627 nan\\ 100.632 -62\\ 100.632 -70\\ 100.632 nan\\ 100.637 -62\\ 100.637 -82.5\\ 100.637 nan\\
100.644 -62\\ 100.644 -68\\ 100.644 nan\\ 100.650 -62\\ 100.650 -71\\ 100.650 nan\\ 100.656 -62\\ 100.656 -69\\ 100.656 nan\\
100.662 -62\\ 100.662 -104\\ 100.662 nan\\ 100.668 -62\\ 100.668 -70\\ 100.668 nan\\ 100.675 -62\\ 100.675 -77.7\\ 100.675 nan\\
100.681 -62\\ 100.681 -70\\ 100.681 nan\\ 100.688 -62\\ 100.688 -68\\ 100.688 nan\\ 100.696 -62\\ 100.696 -69.4\\ 100.696 nan\\
100.700 -62\\ 100.700 -71\\ 100.700 nan\\ 100.705 -62\\ 100.705 -74.2\\ 100.705 nan\\ 100.711 -62\\ 100.711 -70\\ 100.711 nan\\
100.716 -62\\ 100.716 -78\\ 100.716 nan\\ 100.721 -62\\ 100.721 -69\\ 100.721 nan\\ 100.726 -62\\ 100.726 -69.4\\ 100.726 nan\\
100.735 -62\\ 100.735 -73.2\\ 100.735 nan\\ 100.740 -62\\ 100.740 -69\\ 100.740 nan\\ 100.744 -62\\ 100.744 -68\\ 100.744 nan\\
100.750 -62\\ 100.750 -71\\ 100.750 nan\\ 100.755 -62\\ 100.755 -72.9\\ 100.755 nan\\ 100.760 -62\\ 100.760 -69\\ 100.760 nan\\
100.765 -62\\ 100.765 -70\\ 100.765 nan\\ 100.770 -62\\ 100.770 -75.6\\ 100.770 nan\\ 100.775 -62\\ 100.775 -69\\ 100.775 nan\\
100.780 -62\\ 100.780 -70.8\\ 100.780 nan\\ 100.786 -62\\ 100.786 -69\\ 100.786 nan\\ 100.792 -62\\ 100.792 -68\\ 100.792 nan\\
100.797 -62\\ 100.797 -71\\ 100.797 nan\\ 100.803 -62\\ 100.803 -74.6\\ 100.803 nan\\ 100.808 -61\\ 100.808 -69\\ 100.808 nan\\
100.813 -61\\ 100.813 -71.5\\ 100.813 nan\\ 100.821 -60\\ 100.821 -79.8\\ 100.821 nan\\ 100.828 -60\\ 100.828 -73.9\\ 100.828 nan\\
100.835 -60\\ 100.835 -68\\ 100.835 nan\\ 100.843 -59\\ 100.843 -71.8\\ 100.843 nan\\ 100.851 -56\\ 100.851 -68.7\\ 100.851 nan\\
100.856 -54\\ 100.856 -60\\ 100.856 nan\\ 100.859 -53\\ 100.859 -60\\ 100.859 nan\\ 100.864 -54\\ 100.864 -62\\ 100.864 nan\\
100.869 -51\\ 100.869 -64.2\\ 100.869 nan\\ 100.875 -48\\ 100.875 -55\\ 100.875 nan\\ 100.880 -46\\ 100.880 -51.4\\ 100.880 nan\\
100.887 -45\\ 100.887 -49.3\\ 100.887 nan\\ 100.893 -42\\ 100.893 -48\\ 100.893 nan\\ 100.899 -41\\ 100.899 -47.9\\ 100.899 nan\\
100.905 -40\\ 100.905 -46\\ 100.905 nan\\ 100.909 -42\\ 100.909 -47.6\\ 100.909 nan\\ 100.917 -54\\ 100.917 -60\\ 100.917 nan\\
100.925 -58\\ 100.925 -63\\ 100.925 nan\\ 100.931 -60\\ 100.931 -66\\ 100.931 nan\\ 100.937 -60\\ 100.937 -67\\ 100.937 nan\\
100.944 -61\\ 100.944 -66\\ 100.944 nan\\ 100.953 -62\\ 100.953 -68\\ 100.953 nan\\ 100.960 -62\\ 100.960 -67\\ 100.960 nan\\
100.966 -62\\ 100.966 -69\\ 100.966 nan\\ 100.972 -62\\ 100.972 -68.7\\ 100.972 nan\\ 100.979 -62\\ 100.979 -68\\ 100.979 nan\\
100.985 -62\\ 100.985 -70\\ 100.985 nan\\ 100.992 -62\\ 100.992 -69\\ 100.992 nan\\ 101.000 -62\\ 101.000 -70.4\\ 101.000 nan\\
101.006 -62\\ 101.006 -69\\ 101.006 nan\\ 101.012 -62\\ 101.012 -70.4\\ 101.012 nan\\ 101.018 -62\\ 101.018 -69\\ 101.018 nan\\
101.024 -62\\ 101.024 -69\\ 101.024 nan\\ 101.032 -62\\ 101.032 -70\\ 101.032 nan\\ 101.038 -62\\ 101.038 -69.5\\ 101.038 nan\\
101.044 -62\\ 101.044 -71.1\\ 101.044 nan\\ 101.053 -62\\ 101.053 -69\\ 101.053 nan\\ 101.061 -62\\ 101.061 -69.7\\ 101.061 nan\\
101.069 -62\\ 101.069 -68\\ 101.069 nan\\ 101.077 -62\\ 101.077 -85.3\\ 101.077 nan\\ 101.084 -62\\ 101.084 -69\\ 101.084 nan\\
101.090 -62\\ 101.090 -70.4\\ 101.090 nan\\ 101.096 -62\\ 101.096 -75.3\\ 101.096 nan\\ 101.104 -61\\ 101.104 -68\\ 101.104 nan\\
101.112 -60\\ 101.112 -67\\ 101.112 nan\\ 101.120 -57\\ 101.120 -66\\ 101.120 nan\\ 101.126 -54\\ 101.126 -66\\ 101.126 nan\\
101.131 -48\\ 101.131 -58\\ 101.131 nan\\ 101.137 -46\\ 101.137 -52\\ 101.137 nan\\ 101.146 -46\\ 101.146 -52.4\\ 101.146 nan\\
101.154 -46\\ 101.154 -61.8\\ 101.154 nan\\ 101.162 -46\\ 101.162 -57.3\\ 101.162 nan\\ 101.169 -46\\ 101.169 -62.3\\ 101.169 nan\\
101.178 -46\\ 101.178 -52.1\\ 101.178 nan\\ 101.187 -46\\ 101.187 -57.3\\ 101.187 nan\\ 101.194 -46\\ 101.194 -53.5\\ 101.194 nan\\
101.198 -46\\ 101.198 -55.9\\ 101.198 nan\\
99.120 -32\\ 99.120 -25.6\\ 99.120 nan\\ 99.304 -33\\ 99.304 -23.7\\ 99.304 nan\\ 99.722 -32\\ 99.722 -25.0\\ 99.722 nan\\
99.785 -32\\ 99.785 -22.0\\ 99.785 nan\\ 99.845 -32\\ 99.845 -22.5\\ 99.845 nan\\ 99.906 -31\\ 99.906 -24.4\\ 99.906 nan\\
99.936 -31\\ 99.936 -23.5\\ 99.936 nan\\ 99.968 -31\\ 99.968 -24.2\\ 99.968 nan\\ 99.981 -30\\ 99.981 -20.6\\ 99.981 nan\\
99.989 -30\\ 99.989 -19.5\\ 99.989 nan\\ 100.003 -30\\ 100.003 -22.6\\ 100.003 nan\\ 100.220 -32\\ 100.220 -27.5\\ 100.220 nan\\
100.343 -32\\ 100.343 -27.7\\ 100.343 nan\\ 100.648 -32\\ 100.648 -23.3\\ 100.648 nan\\
}\tblS

% outline of the dense band: upper edge left to right, then lower edge right to left
\pgfplotstablevertcat{\tblU}{\tblL}

\begin{document}
\begin{tikzpicture}
\path[use as bounding box] (-59.5pt,-41.9pt) rectangle (804.4pt,390.1pt);
\begin{axis}[
  at={(0pt,0pt)}, anchor=south west,
  width=793.4pt, height=364.8pt, scale only axis,
  xmin=98.68, xmax=101.32, ymin=-100, ymax=4.97,
  xtick={99,99.5,100,100.5,101},
  xticklabels={99.0,99.5,100.0,100.5,101.0},
  ytick={-100,-80,-60,-40,-20,0},
  yticklabels={−100,−80,−60,−40,−20,0},
  tick pos=left, tick align=outside,
  major tick length=3.5pt,
  every tick/.style={black, line width=0.8pt},
  axis line style={black, line width=0.8pt},
  grid=major, grid style={mplgrid, line width=0.8pt},
  ticklabel style={font=\fontsize{10}{12}\selectfont, black},
  every axis title shift=0pt,
  title={Lab024A. Спектр сигнала, принятого Pluto+},
  title style={font=\fontsize{12}{14}\selectfont, at={(0.5,1)}, anchor=base, yshift=6.6pt},
  xlabel={Частота, МГц},
  ylabel={Относительная мощность, дБ},
  label style={font=\fontsize{10}{12}\selectfont},
  ylabel style={yshift=-3.2pt},
  unbounded coords=jump,
]
\addplot[draw=mplblue, fill=mplblue, line width=1.5pt, line join=round] table[x=f,y=y] {\tblU} -- cycle;
\addplot[mplblue, line width=1.5pt, line cap=round] table[x=f,y=y] {\tblS};
\end{axis}
\end{tikzpicture}
\end{document}
